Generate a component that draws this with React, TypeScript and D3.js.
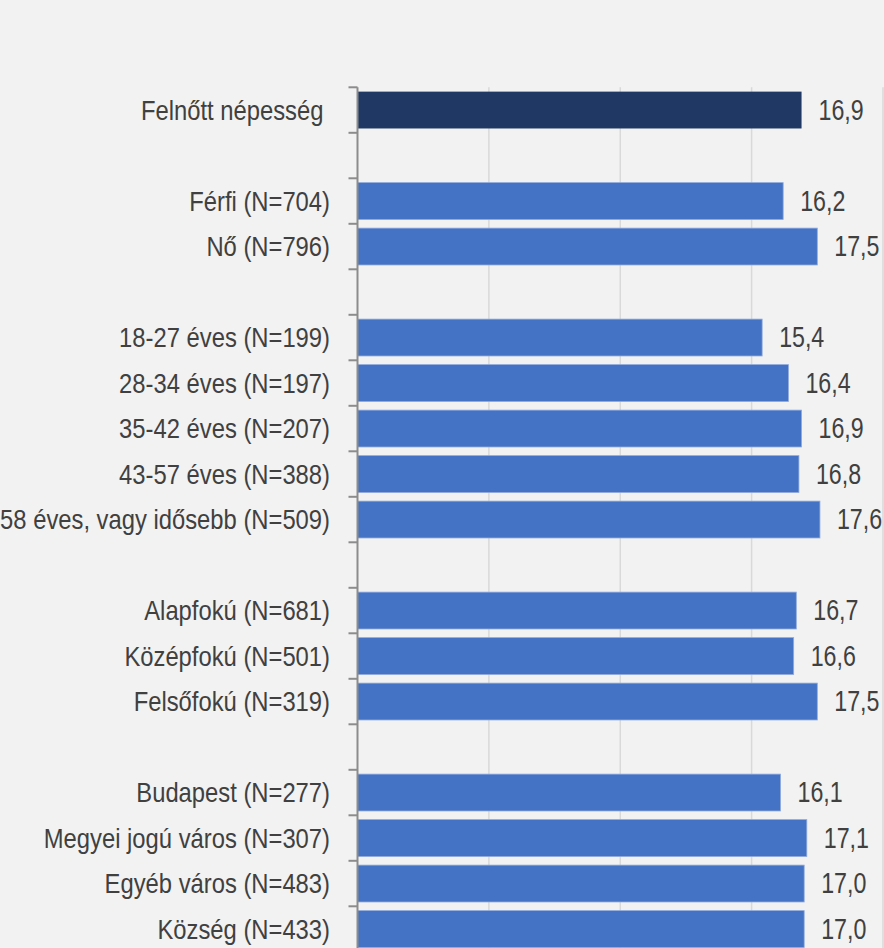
import React from "react";
import * as d3 from "d3";

const categories: string[] = [
  "Felnőtt népesség ",
  "",
  "Férfi (N=704)",
  "Nő (N=796)",
  "",
  "18-27 éves (N=199)",
  "28-34 éves (N=197)",
  "35-42 éves (N=207)",
  "43-57 éves (N=388)",
  "58 éves, vagy idősebb (N=509)",
  "",
  "Alapfokú (N=681)",
  "Középfokú (N=501)",
  "Felsőfokú (N=319)",
  "",
  "Budapest (N=277)",
  "Megyei jogú város (N=307)",
  "Egyéb város (N=483)",
  "Község (N=433)",
];

const values: (number | null)[] = [
  16.9, null, 16.2, 17.5, null, 15.4, 16.4, 16.9, 16.8, 17.6, null, 16.7, 16.6, 17.5, null, 16.1, 17.1, 17.0, 17.0,
];

const highlighted: boolean[] = categories.map((_, i) => i === 0);

const xTicks: number[] = [0, 5, 10, 15, 20];

const W = 884;
const H = 948;
const axisX = 357.5;
const rightX = 883;
const top = 87.3;
const step = 45.5;

export default function App() {
  const x = d3.scaleLinear().domain([0, 20]).range([axisX, rightX]);
  const idx = categories.map((_, i) => String(i));
  const y = d3
    .scaleBand<string>()
    .domain(idx)
    .range([top, top + step * categories.length])
    .paddingInner(0.19)
    .paddingOuter(0.095);
  const fmt = (v: number) => d3.format(".1f")(v).replace(".", ",");
  const font = "'Liberation Sans Narrow', 'Arial Narrow', 'Liberation Sans', Arial, sans-serif";
  const boundaries = d3.range(categories.length + 1).map((i) => top + i * y.step());

  return (
    <div style={{ position: "fixed", left: 0, top: 0, width: W, height: H, background: "#f2f2f2" }}>
      <svg width={W} height={H} style={{ display: "block" }}>
        <rect x={0} y={0} width={W} height={H} fill="#f2f2f2" />
        {xTicks.slice(1).map((t) => (
          <line key={t} x1={x(t)} x2={x(t)} y1={top} y2={H} stroke="#d9d9d9" strokeWidth={1.5} />
        ))}
        {values.map((v, i) =>
          v == null ? null : (
            <rect
              key={i}
              x={x(0)}
              y={y(String(i))!}
              width={x(v) - x(0)}
              height={y.bandwidth()}
              fill={highlighted[i] ? "#1f3864" : "#4472c4"}
              stroke={highlighted[i] ? "none" : "#8faadc"}
              strokeWidth={0.8}
            />
          )
        )}
        <line x1={axisX} x2={axisX} y1={top} y2={H} stroke="#8c8c8c" strokeWidth={2} />
        {boundaries.map((b, i) => (
          <line key={i} x1={axisX - 9} x2={axisX} y1={b} y2={b} stroke="#8c8c8c" strokeWidth={2} />
        ))}
        {categories.map((c, i) =>
          c ? (
            <text
              key={i}
              transform={`translate(330,${y(String(i))! + y.bandwidth() / 2}) scale(0.85,1)`}
              textAnchor="end"
              dominantBaseline="central"
              fontFamily={font}
              fontSize={28}
              fill="#404040"
              style={{ whiteSpace: "pre" }}
            >
              {c}
            </text>
          ) : null
        )}
        {values.map((v, i) =>
          v == null ? null : (
            <text
              key={i}
              transform={`translate(${x(v) + 17},${y(String(i))! + y.bandwidth() / 2}) scale(0.8,1)`}
              dominantBaseline="central"
              fontFamily={font}
              fontSize={29}
              fill="#404040"
            >
              {fmt(v)}
            </text>
          )
        )}
      </svg>
    </div>
  );
}
